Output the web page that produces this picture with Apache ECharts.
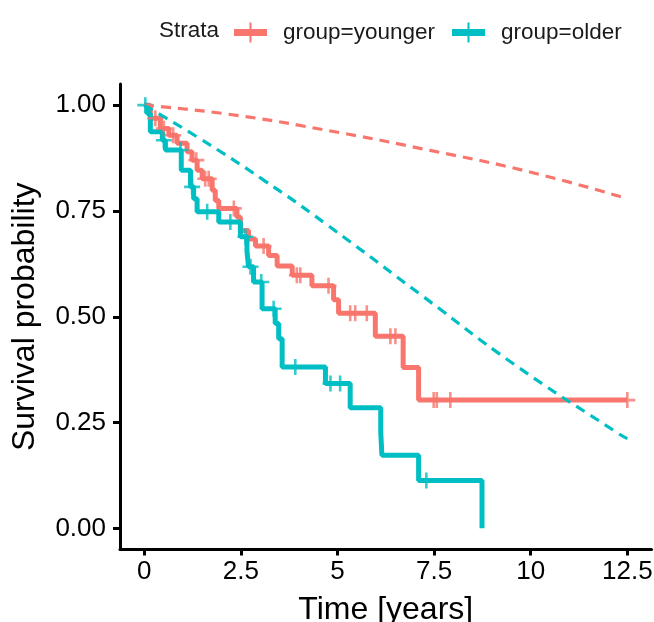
<!DOCTYPE html>
<html>
<head>
<meta charset="utf-8">
<script src="https://cdn.jsdelivr.net/npm/echarts@6/dist/echarts.min.js"></script>
<style>
html,body{margin:0;padding:0;background:#fff;}
#chart{width:654px;height:622px;}
</style>
</head>
<body>
<div id="chart"></div>
<script>
// ---- data ----
const xTickValues = [0, 2.5, 5, 7.5, 10, 12.5];
const xTickLabels = ['0', '2.5', '5', '7.5', '10', '12.5'];
const yTickValues = [0, 0.25, 0.5, 0.75, 1];
const yTickLabels = ['0.00', '0.25', '0.50', '0.75', '1.00'];

const groupNames = ['group=younger', 'group=older'];

const youngerTimes = [0, 0.16, 0.42, 0.64, 0.85, 1.11, 1.24, 1.37, 1.50, 1.76, 1.84, 1.93, 2.40, 2.49, 2.70, 2.88, 3.22, 3.44, 3.83, 4.34, 4.90, 5.03, 5.98, 6.70, 7.10, 12.5];
const youngerSurv  = [1, 0.969, 0.945, 0.929, 0.910, 0.890, 0.870, 0.846, 0.826, 0.799, 0.775, 0.756, 0.736, 0.704, 0.684, 0.667, 0.645, 0.620, 0.598, 0.573, 0.540, 0.508, 0.454, 0.380, 0.303, 0.303];
const youngerCensorTimes = [0.29, 0.51, 0.75, 1.35, 1.58, 1.67, 2.32, 3.09, 3.95, 4.04, 4.77, 5.33, 5.46, 5.76, 6.37, 6.50, 7.49, 7.57, 7.92, 12.5];

const olderTimes = [0, 0.08, 0.16, 0.47, 0.55, 0.96, 1.20, 1.28, 1.37, 1.93, 2.49, 2.66, 2.70, 2.83, 3.05, 3.39, 3.48, 3.57, 4.69, 5.33, 6.12, 6.15, 7.10, 8.74];
const olderSurv  = [1, 0.98, 0.937, 0.917, 0.894, 0.846, 0.807, 0.779, 0.748, 0.724, 0.689, 0.654, 0.618, 0.582, 0.519, 0.484, 0.448, 0.381, 0.342, 0.285, 0.228, 0.173, 0.113, 0];
const olderCensorTimes = [0.03, 0.51, 0.94, 1.24, 1.63, 2.23, 2.62, 2.75, 3.03, 3.35, 3.91, 4.82, 5.07, 7.30];

// expected (dashed) curves
const youngerExpTimes = [0, 2.23, 4.82, 7.40, 9.98, 12.5];
const youngerExpSurv  = [1, 0.978, 0.939, 0.893, 0.842, 0.779];
const olderExpTimes = [0, 1.37, 3.09, 4.69, 7.23, 9.55, 12.27, 12.5];
const olderExpSurv  = [1, 0.925, 0.823, 0.720, 0.547, 0.389, 0.224, 0.212];

// ---- helpers ----
const RED = '#F8766D', TEAL = '#00BFC4';
const FONT = 'Liberation Sans, Arial, Helvetica, sans-serif';
function zip(a, b) { return a.map((v, i) => [v, b[i]]); }
function survAt(times, surv, t) {
  let s = surv[0];
  for (let i = 0; i < times.length; i++) { if (times[i] <= t) s = surv[i]; }
  return s;
}
const plusPath = 'path://M6.7,0 H9.3 V6.7 H16 V9.3 H9.3 V16 H6.7 V9.3 H0 V6.7 H6.7 Z';
const legendIcon = 'path://M0,6.5 H33 V13.5 H0 Z M15.5,0 H17.5 V20 H15.5 Z';

const chart = echarts.init(document.getElementById('chart'), null, {renderer: 'canvas'});
chart.setOption({
  animation: false,
  backgroundColor: '#ffffff',
  title: {
    text: 'Strata', left: 154, top: 14,
    textStyle: {fontFamily: FONT, fontSize: 22.5, fontWeight: 'normal', color: '#1a1a1a'}
  },
  legend: {
    data: groupNames,
    left: 229, top: 16,
    itemWidth: 33, itemHeight: 20, itemGap: 17,
    icon: legendIcon,
    textStyle: {fontFamily: FONT, fontSize: 22.5, color: '#1a1a1a', padding: [0, 0, 0, 11]}
  },
  grid: {left: 120, right: 2.5, top: 84, bottom: 72.5, containLabel: false, outerBoundsMode: 'none'},
  xAxis: {
    type: 'value', min: -0.625, max: 13.125,
    name: 'Time [years]', nameLocation: 'middle', nameGap: 45,
    nameTextStyle: {fontFamily: FONT, fontSize: 32, color: '#000'},
    axisLine: {show: true, onZero: false, lineStyle: {color: '#000', width: 3}},
    axisTick: {show: true, length: 6, lineStyle: {color: '#000', width: 3}, customValues: xTickValues},
    axisLabel: {
      fontFamily: FONT, fontSize: 26, color: '#000', margin: 9,
      customValues: xTickValues,
      formatter: v => { const i = xTickValues.indexOf(v); return i >= 0 ? xTickLabels[i] : ''; }
    },
    splitLine: {show: false}
  },
  yAxis: {
    type: 'value', min: -0.05, max: 1.05,
    name: 'Survival probability', nameLocation: 'middle', nameGap: 79, nameRotate: 90,
    nameTextStyle: {fontFamily: FONT, fontSize: 32, color: '#000'},
    axisLine: {show: true, onZero: false, lineStyle: {color: '#000', width: 3}},
    axisTick: {show: true, length: 7, lineStyle: {color: '#000', width: 3}, customValues: yTickValues},
    axisLabel: {
      fontFamily: FONT, fontSize: 26, color: '#000', margin: 14,
      customValues: yTickValues,
      formatter: v => { const i = yTickValues.findIndex(u => Math.abs(u - v) < 1e-9); return i >= 0 ? yTickLabels[i] : ''; }
    },
    splitLine: {show: false}
  },
  series: [
    {
      name: groupNames[0], type: 'line', step: 'end', symbol: 'none', z: 2,
      data: zip(youngerTimes, youngerSurv),
      lineStyle: {color: RED, width: 5}, itemStyle: {color: RED}
    },
    {
      name: groupNames[1], type: 'line', step: 'end', symbol: 'none', z: 3,
      data: zip(olderTimes, olderSurv),
      lineStyle: {color: TEAL, width: 5}, itemStyle: {color: TEAL}
    },
    {
      name: 'younger censored', type: 'scatter', symbol: plusPath, symbolSize: 16, z: 4,
      data: youngerCensorTimes.map(t => [t, survAt(youngerTimes, youngerSurv, t)]),
      itemStyle: {color: RED}
    },
    {
      name: 'older censored', type: 'scatter', symbol: plusPath, symbolSize: 16, z: 5,
      data: olderCensorTimes.map(t => [t, survAt(olderTimes, olderSurv, t)]),
      itemStyle: {color: TEAL}
    },
    {
      name: 'younger expected', type: 'line', smooth: true, symbol: 'none', z: 6,
      data: zip(youngerExpTimes, youngerExpSurv),
      lineStyle: {color: RED, width: 3.2, type: [10, 7]}
    },
    {
      name: 'older expected', type: 'line', smooth: true, symbol: 'none', z: 7,
      data: zip(olderExpTimes, olderExpSurv),
      lineStyle: {color: TEAL, width: 3.2, type: [10, 7]}
    }
  ]
});
</script>
</body>
</html>
